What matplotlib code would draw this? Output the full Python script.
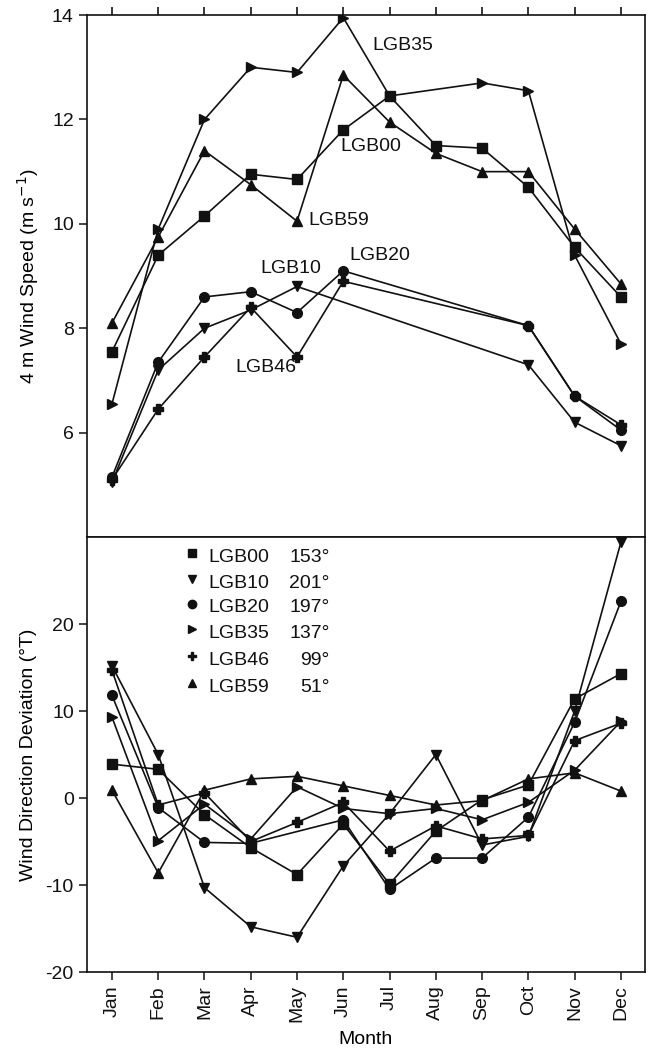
import numpy as np
import matplotlib
matplotlib.use("Agg")
import matplotlib.pyplot as plt

plt.rcParams['font.family'] = ['Liberation Sans', 'DejaVu Sans']
plt.rcParams['axes.unicode_minus'] = False

nan = np.nan
months = ["Jan", "Feb", "Mar", "Apr", "May", "Jun",
          "Jul", "Aug", "Sep", "Oct", "Nov", "Dec"]
stations = ["LGB00", "LGB10", "LGB20", "LGB35", "LGB46", "LGB59"]
mean_dir = ["153°", "201°", "197°", "137°", "99°", "51°"]
markers = ["s", "v", "o", ">", "P", "^"]

# 4 m wind speed (m/s)
speed_lgb00 = [7.55, 9.4, 10.15, 10.95, 10.85, 11.8, 12.45, 11.5, 11.45, 10.7, 9.55, 8.6]
speed_lgb10 = [5.05, 7.2, 8.0, 8.35, 8.8, nan, nan, nan, nan, 7.3, 6.2, 5.75]
speed_lgb20 = [5.15, 7.35, 8.6, 8.7, 8.3, 9.1, nan, nan, nan, 8.05, 6.7, 6.05]
speed_lgb35 = [6.55, 9.9, 12.0, 13.0, 12.9, 13.95, 12.45, nan, 12.7, 12.55, 9.4, 7.7]
speed_lgb46 = [5.1, 6.45, 7.45, 8.4, 7.45, 8.9, nan, nan, nan, 8.05, 6.7, 6.15]
speed_lgb59 = [8.1, 9.75, 11.4, 10.75, 10.05, 12.85, 11.95, 11.35, 11.0, 11.0, 9.9, 8.85]

# wind direction deviation (deg T)
dev_lgb00 = [3.9, 3.3, -1.9, -5.7, -8.8, -3.0, -9.9, -3.8, -0.2, 1.5, 11.4, 14.3]
dev_lgb10 = [15.2, 5.0, -10.3, -14.8, -16.0, -7.8, -1.8, 5.0, -5.4, -4.4, 10.0, 29.4]
dev_lgb20 = [11.8, -1.1, -5.1, -5.2, nan, -2.5, -10.5, -6.9, -6.9, -2.2, 8.7, 22.6]
dev_lgb35 = [9.3, -4.9, -0.7, -4.7, 1.3, -1.2, -1.8, -1.2, -2.5, -0.5, 3.2, 8.8]
dev_lgb46 = [14.7, -0.8, 0.6, -5.0, -2.8, -0.5, -6.1, -3.2, -4.7, -4.3, 6.6, 8.6]
dev_lgb59 = [0.9, -8.6, 0.9, 2.2, 2.5, 1.4, 0.3, -0.8, -0.3, 2.2, 2.9, 0.8]

speeds = [speed_lgb00, speed_lgb10, speed_lgb20, speed_lgb35, speed_lgb46, speed_lgb59]
devs = [dev_lgb00, dev_lgb10, dev_lgb20, dev_lgb35, dev_lgb46, dev_lgb59]

# station labels in the upper panel: (text, month position, speed)
speed_labels = [("LGB35", 6.62, 13.42), ("LGB00", 5.93, 11.49),
                ("LGB59", 5.24, 10.07), ("LGB10", 4.2, 9.15),
                ("LGB20", 6.14, 9.40), ("LGB46", 3.66, 7.24)]

x = np.arange(1, 13)
ink = "#111111"

fig = plt.figure(figsize=(6.52, 10.52), dpi=100)
ax1 = fig.add_axes([0.1334, 0.4895, 0.8558, 0.4962])
ax2 = fig.add_axes([0.1334, 0.0760, 0.8558, 0.4135])

for ys, m in zip(speeds, markers):
    ys = np.array(ys)
    ok = ~np.isnan(ys)
    ax1.plot(x[ok], ys[ok], color=ink, lw=1.2, marker=m, ms=7,
             mfc=ink, mec=ink)

for ys, m in zip(devs, markers):
    ys = np.array(ys)
    ok = ~np.isnan(ys)
    ax2.plot(x[ok], ys[ok], color=ink, lw=1.2, marker=m, ms=7,
             mfc=ink, mec=ink)

for txt, xx, yy in speed_labels:
    ax1.text(xx, yy, txt, fontsize=14, ha="left", va="center", color=ink)

for ax in (ax1, ax2):
    ax.set_xlim(0.46, 12.52)
    ax.set_xticks(x)
    for s in ax.spines.values():
        s.set_linewidth(1.2)
        s.set_color(ink)
    ax.tick_params(axis="y", direction="out", length=6, width=1.1,
                   labelsize=14, colors=ink)

ax1.set_ylim(4, 14)
ax1.set_yticks([6, 8, 10, 12, 14])
ax1.tick_params(axis="x", top=True, bottom=False, labeltop=False,
                labelbottom=False, direction="out", length=6, width=1.1)
ax1.set_ylabel("4 m Wind Speed (m s$^{-1}$)", fontsize=14, labelpad=8)

ax2.set_ylim(-20, 30)
ax2.set_yticks([-20, -10, 0, 10, 20])
ax2.set_xticklabels(months, rotation=90)
ax2.tick_params(axis="x", direction="out", length=6, width=1.1,
                labelsize=14, colors=ink)
ax2.set_ylabel("Wind Direction Deviation (°T)", fontsize=14, labelpad=6)
ax2.set_xlabel("Month", fontsize=14, labelpad=6)

# key with mean directions
rows = [0.954, 0.894, 0.837, 0.779, 0.717, 0.655]
for st, d, m, ry in zip(stations, mean_dir, markers, rows):
    ax2.plot([0.188], [ry + 0.01], transform=ax2.transAxes, marker=m,
             ms=6, color=ink, ls="none", clip_on=False)
    ax2.text(0.217, ry, st, transform=ax2.transAxes, fontsize=14,
             ha="left", va="center", color=ink)
    ax2.text(0.435, ry, d, transform=ax2.transAxes, fontsize=14,
             ha="right", va="center", color=ink)

fig.savefig("out.png", dpi=100)
